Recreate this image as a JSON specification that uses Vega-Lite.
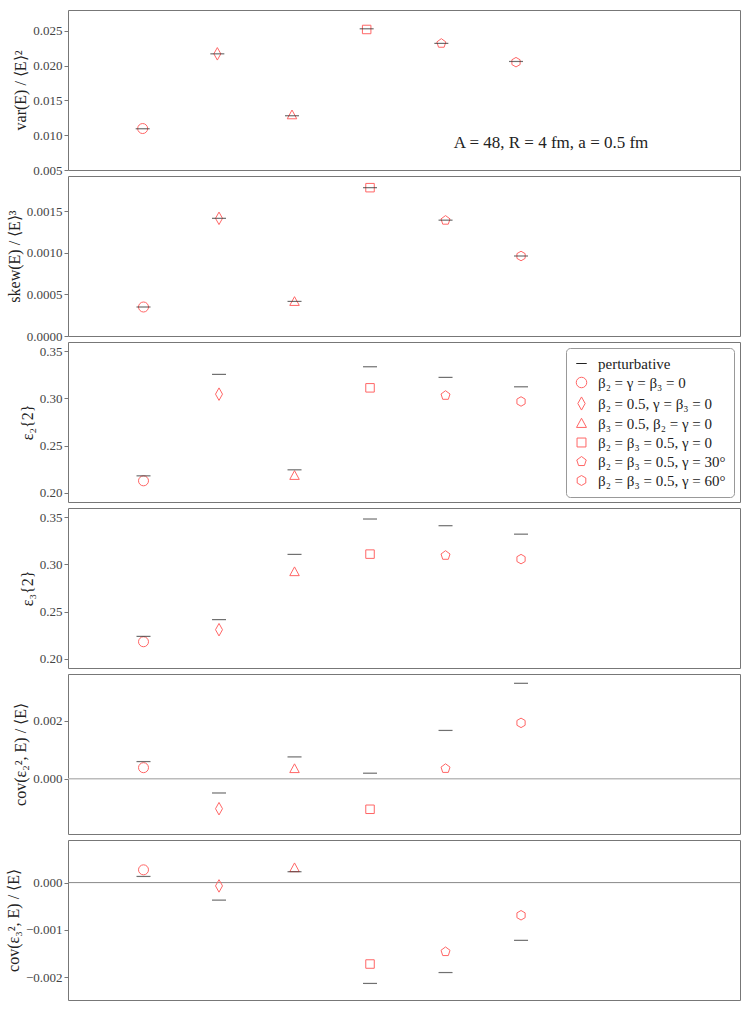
{
  "$schema": "https://vega.github.io/schema/vega-lite/v6.json",
  "padding": {"left": 4, "top": 9, "right": 6, "bottom": 4},
  "background": "white",
  "spacing": 6,
  "bounds": "flush",
  "datasets": {
    "moments": [
      {"panel": 1, "i": 1, "cfg": "β₂ = γ = β₃ = 0", "val": 0.01096, "pert": 0.01093},
      {"panel": 1, "i": 2, "cfg": "β₂ = 0.5, γ = β₃ = 0", "val": 0.0217, "pert": 0.0217},
      {"panel": 1, "i": 3, "cfg": "β₃ = 0.5, β₂ = γ = 0", "val": 0.0129, "pert": 0.0128},
      {"panel": 1, "i": 4, "cfg": "β₂ = β₃ = 0.5, γ = 0", "val": 0.0252, "pert": 0.0253},
      {"panel": 1, "i": 5, "cfg": "β₂ = β₃ = 0.5, γ = 30°", "val": 0.0232, "pert": 0.0232},
      {"panel": 1, "i": 6, "cfg": "β₂ = β₃ = 0.5, γ = 60°", "val": 0.0205, "pert": 0.0206},
      {"panel": 2, "i": 1, "cfg": "β₂ = γ = β₃ = 0", "val": 0.000348, "pert": 0.000348},
      {"panel": 2, "i": 2, "cfg": "β₂ = 0.5, γ = β₃ = 0", "val": 0.001412, "pert": 0.001412},
      {"panel": 2, "i": 3, "cfg": "β₃ = 0.5, β₂ = γ = 0", "val": 0.000412, "pert": 0.000415},
      {"panel": 2, "i": 4, "cfg": "β₂ = β₃ = 0.5, γ = 0", "val": 0.00178, "pert": 0.00178},
      {"panel": 2, "i": 5, "cfg": "β₂ = β₃ = 0.5, γ = 30°", "val": 0.001388, "pert": 0.00139},
      {"panel": 2, "i": 6, "cfg": "β₂ = β₃ = 0.5, γ = 60°", "val": 0.00096, "pert": 0.00096},
      {"panel": 3, "i": 1, "cfg": "β₂ = γ = β₃ = 0", "val": 0.2125, "pert": 0.2178},
      {"panel": 3, "i": 2, "cfg": "β₂ = 0.5, γ = β₃ = 0", "val": 0.3046, "pert": 0.3256},
      {"panel": 3, "i": 3, "cfg": "β₃ = 0.5, β₂ = γ = 0", "val": 0.218, "pert": 0.2242},
      {"panel": 3, "i": 4, "cfg": "β₂ = β₃ = 0.5, γ = 0", "val": 0.3113, "pert": 0.3337},
      {"panel": 3, "i": 5, "cfg": "β₂ = β₃ = 0.5, γ = 30°", "val": 0.3032, "pert": 0.3224},
      {"panel": 3, "i": 6, "cfg": "β₂ = β₃ = 0.5, γ = 60°", "val": 0.2968, "pert": 0.3124},
      {"panel": 4, "i": 1, "cfg": "β₂ = γ = β₃ = 0", "val": 0.2179, "pert": 0.2236},
      {"panel": 4, "i": 2, "cfg": "β₂ = 0.5, γ = β₃ = 0", "val": 0.2307, "pert": 0.2414},
      {"panel": 4, "i": 3, "cfg": "β₃ = 0.5, β₂ = γ = 0", "val": 0.2921, "pert": 0.3107},
      {"panel": 4, "i": 4, "cfg": "β₂ = β₃ = 0.5, γ = 0", "val": 0.311, "pert": 0.3483},
      {"panel": 4, "i": 5, "cfg": "β₂ = β₃ = 0.5, γ = 30°", "val": 0.3096, "pert": 0.3412},
      {"panel": 4, "i": 6, "cfg": "β₂ = β₃ = 0.5, γ = 60°", "val": 0.3057, "pert": 0.3322},
      {"panel": 5, "i": 1, "cfg": "β₂ = γ = β₃ = 0", "val": 0.00038, "pert": 0.00059},
      {"panel": 5, "i": 2, "cfg": "β₂ = 0.5, γ = β₃ = 0", "val": -0.00103, "pert": -0.00049},
      {"panel": 5, "i": 3, "cfg": "β₃ = 0.5, β₂ = γ = 0", "val": 0.00034, "pert": 0.00075},
      {"panel": 5, "i": 4, "cfg": "β₂ = β₃ = 0.5, γ = 0", "val": -0.00105, "pert": 0.00019},
      {"panel": 5, "i": 5, "cfg": "β₂ = β₃ = 0.5, γ = 30°", "val": 0.00035, "pert": 0.00166},
      {"panel": 5, "i": 6, "cfg": "β₂ = β₃ = 0.5, γ = 60°", "val": 0.00192, "pert": 0.00328},
      {"panel": 6, "i": 1, "cfg": "β₂ = γ = β₃ = 0", "val": 0.00027, "pert": 0.00013},
      {"panel": 6, "i": 2, "cfg": "β₂ = 0.5, γ = β₃ = 0", "val": -0.00007, "pert": -0.00037},
      {"panel": 6, "i": 3, "cfg": "β₃ = 0.5, β₂ = γ = 0", "val": 0.00031, "pert": 0.00023},
      {"panel": 6, "i": 4, "cfg": "β₂ = β₃ = 0.5, γ = 0", "val": -0.00172, "pert": -0.00213},
      {"panel": 6, "i": 5, "cfg": "β₂ = β₃ = 0.5, γ = 30°", "val": -0.00146, "pert": -0.0019},
      {"panel": 6, "i": 6, "cfg": "β₂ = β₃ = 0.5, γ = 60°", "val": -0.00069, "pert": -0.00122}
    ]
  },
  "resolve": {"scale": {"color": "independent", "shape": "independent"}},
  "vconcat": [
    {
      "width": 672,
      "height": 160,
      "data": {"name": "moments"},
      "transform": [{"filter": "datum.panel == 1"}],
      "layer": [
        {
          "mark": {"type": "point", "filled": false, "size": 100, "strokeWidth": 1, "opacity": 1},
          "encoding": {
            "x": {"field": "i", "type": "quantitative", "scale": {"domain": [0, 8.9]}, "axis": null},
            "y": {"field": "val", "type": "quantitative", "title": "var(E) / ⟨E⟩²", "scale": {"domain": [0.005, 0.028], "nice": false, "zero": false}, "axis": {"tickCount": 5, "format": ".3f", "labelOverlap": false, "labelBound": false}},
            "shape": {"field": "cfg", "type": "nominal", "legend": null, "scale": {"domain": ["perturbative", "β₂ = γ = β₃ = 0", "β₂ = 0.5, γ = β₃ = 0", "β₃ = 0.5, β₂ = γ = 0", "β₂ = β₃ = 0.5, γ = 0", "β₂ = β₃ = 0.5, γ = 30°", "β₂ = β₃ = 0.5, γ = 60°"], "range": ["stroke", "circle", "M0,-1.25L0.7,0L0,1.25L-0.7,0Z", "M0,-1L0.95,0.75L-0.95,0.75Z", "M-0.85,-0.85H0.85V0.85H-0.85Z", "M0,-0.95L0.9,-0.29L0.56,0.77L-0.56,0.77L-0.9,-0.29Z", "M0,-0.95L0.82,-0.48L0.82,0.48L0,0.95L-0.82,0.48L-0.82,-0.48Z"]}},
            "color": {"field": "cfg", "type": "nominal", "legend": null, "scale": {"domain": ["perturbative", "β₂ = γ = β₃ = 0", "β₂ = 0.5, γ = β₃ = 0", "β₃ = 0.5, β₂ = γ = 0", "β₂ = β₃ = 0.5, γ = 0", "β₂ = β₃ = 0.5, γ = 30°", "β₂ = β₃ = 0.5, γ = 60°"], "range": ["#222222", "#ff6666", "#ff6666", "#ff6666", "#ff6666", "#ff6666", "#ff6666"]}}
          }
        },
        {
          "mark": {"type": "tick", "orient": "horizontal", "size": 14, "thickness": 1.2, "color": "#333333"},
          "encoding": {
            "x": {"field": "i", "type": "quantitative", "scale": {"domain": [0, 8.9]}, "axis": null},
            "y": {"field": "pert", "type": "quantitative", "title": "var(E) / ⟨E⟩²", "scale": {"domain": [0.005, 0.028], "nice": false, "zero": false}, "axis": {"tickCount": 5, "format": ".3f", "labelOverlap": false, "labelBound": false}}
          }
        },
        {
          "transform": [{"filter": "datum.i == 1"}],
          "mark": {"type": "text", "text": "A = 48, R = 4 fm, a = 0.5 fm", "font": "Liberation Serif", "fontSize": 17, "color": "#222222", "align": "center", "baseline": "middle"},
          "encoding": {"x": {"datum": 6.47}, "y": {"datum": 0.0089}}
        }
      ]
    },
    {
      "width": 672,
      "height": 160,
      "data": {"name": "moments"},
      "transform": [{"filter": "datum.panel == 2"}],
      "layer": [
        {
          "mark": {"type": "point", "filled": false, "size": 100, "strokeWidth": 1, "opacity": 1},
          "encoding": {
            "x": {"field": "i", "type": "quantitative", "scale": {"domain": [0, 8.9]}, "axis": null},
            "y": {"field": "val", "type": "quantitative", "title": "skew(E) / ⟨E⟩³", "scale": {"domain": [0, 0.00192], "nice": false, "zero": false}, "axis": {"values": [0, 0.0005, 0.001, 0.0015], "format": ".4f", "labelOverlap": false}},
            "shape": {"field": "cfg", "type": "nominal", "legend": null, "scale": {"domain": ["perturbative", "β₂ = γ = β₃ = 0", "β₂ = 0.5, γ = β₃ = 0", "β₃ = 0.5, β₂ = γ = 0", "β₂ = β₃ = 0.5, γ = 0", "β₂ = β₃ = 0.5, γ = 30°", "β₂ = β₃ = 0.5, γ = 60°"], "range": ["stroke", "circle", "M0,-1.25L0.7,0L0,1.25L-0.7,0Z", "M0,-1L0.95,0.75L-0.95,0.75Z", "M-0.85,-0.85H0.85V0.85H-0.85Z", "M0,-0.95L0.9,-0.29L0.56,0.77L-0.56,0.77L-0.9,-0.29Z", "M0,-0.95L0.82,-0.48L0.82,0.48L0,0.95L-0.82,0.48L-0.82,-0.48Z"]}},
            "color": {"field": "cfg", "type": "nominal", "legend": null, "scale": {"domain": ["perturbative", "β₂ = γ = β₃ = 0", "β₂ = 0.5, γ = β₃ = 0", "β₃ = 0.5, β₂ = γ = 0", "β₂ = β₃ = 0.5, γ = 0", "β₂ = β₃ = 0.5, γ = 30°", "β₂ = β₃ = 0.5, γ = 60°"], "range": ["#222222", "#ff6666", "#ff6666", "#ff6666", "#ff6666", "#ff6666", "#ff6666"]}}
          }
        },
        {
          "mark": {"type": "tick", "orient": "horizontal", "size": 14, "thickness": 1.2, "color": "#333333"},
          "encoding": {
            "x": {"field": "i", "type": "quantitative", "scale": {"domain": [0, 8.9]}, "axis": null},
            "y": {"field": "pert", "type": "quantitative", "title": "skew(E) / ⟨E⟩³", "scale": {"domain": [0, 0.00192], "nice": false, "zero": false}, "axis": {"values": [0, 0.0005, 0.001, 0.0015], "format": ".4f", "labelOverlap": false}}
          }
        }
      ]
    },
    {
      "width": 672,
      "height": 160,
      "data": {"name": "moments"},
      "transform": [{"filter": "datum.panel == 3"}],
      "layer": [
        {
          "mark": {"type": "point", "filled": false, "size": 100, "strokeWidth": 1, "opacity": 1},
          "encoding": {
            "x": {"field": "i", "type": "quantitative", "scale": {"domain": [0, 8.9]}, "axis": null},
            "y": {"field": "val", "type": "quantitative", "title": "ε₂{2}", "scale": {"domain": [0.19, 0.36], "nice": false, "zero": false}, "axis": {"values": [0.2, 0.25, 0.3, 0.35], "format": ".2f", "labelOverlap": false}},
            "shape": {"field": "cfg", "type": "nominal", "legend": {"orient": "top-right", "title": null}, "scale": {"domain": ["perturbative", "β₂ = γ = β₃ = 0", "β₂ = 0.5, γ = β₃ = 0", "β₃ = 0.5, β₂ = γ = 0", "β₂ = β₃ = 0.5, γ = 0", "β₂ = β₃ = 0.5, γ = 30°", "β₂ = β₃ = 0.5, γ = 60°"], "range": ["stroke", "circle", "M0,-1.25L0.7,0L0,1.25L-0.7,0Z", "M0,-1L0.95,0.75L-0.95,0.75Z", "M-0.85,-0.85H0.85V0.85H-0.85Z", "M0,-0.95L0.9,-0.29L0.56,0.77L-0.56,0.77L-0.9,-0.29Z", "M0,-0.95L0.82,-0.48L0.82,0.48L0,0.95L-0.82,0.48L-0.82,-0.48Z"]}},
            "color": {"field": "cfg", "type": "nominal", "legend": {"orient": "top-right", "title": null}, "scale": {"domain": ["perturbative", "β₂ = γ = β₃ = 0", "β₂ = 0.5, γ = β₃ = 0", "β₃ = 0.5, β₂ = γ = 0", "β₂ = β₃ = 0.5, γ = 0", "β₂ = β₃ = 0.5, γ = 30°", "β₂ = β₃ = 0.5, γ = 60°"], "range": ["#222222", "#ff6666", "#ff6666", "#ff6666", "#ff6666", "#ff6666", "#ff6666"]}}
          }
        },
        {
          "mark": {"type": "tick", "orient": "horizontal", "size": 14, "thickness": 1.2, "color": "#333333"},
          "encoding": {
            "x": {"field": "i", "type": "quantitative", "scale": {"domain": [0, 8.9]}, "axis": null},
            "y": {"field": "pert", "type": "quantitative", "title": "ε₂{2}", "scale": {"domain": [0.19, 0.36], "nice": false, "zero": false}, "axis": {"values": [0.2, 0.25, 0.3, 0.35], "format": ".2f", "labelOverlap": false}}
          }
        }
      ]
    },
    {
      "width": 672,
      "height": 160,
      "data": {"name": "moments"},
      "transform": [{"filter": "datum.panel == 4"}],
      "layer": [
        {
          "mark": {"type": "point", "filled": false, "size": 100, "strokeWidth": 1, "opacity": 1},
          "encoding": {
            "x": {"field": "i", "type": "quantitative", "scale": {"domain": [0, 8.9]}, "axis": null},
            "y": {"field": "val", "type": "quantitative", "title": "ε₃{2}", "scale": {"domain": [0.19, 0.36], "nice": false, "zero": false}, "axis": {"values": [0.2, 0.25, 0.3, 0.35], "format": ".2f", "labelOverlap": false}},
            "shape": {"field": "cfg", "type": "nominal", "legend": null, "scale": {"domain": ["perturbative", "β₂ = γ = β₃ = 0", "β₂ = 0.5, γ = β₃ = 0", "β₃ = 0.5, β₂ = γ = 0", "β₂ = β₃ = 0.5, γ = 0", "β₂ = β₃ = 0.5, γ = 30°", "β₂ = β₃ = 0.5, γ = 60°"], "range": ["stroke", "circle", "M0,-1.25L0.7,0L0,1.25L-0.7,0Z", "M0,-1L0.95,0.75L-0.95,0.75Z", "M-0.85,-0.85H0.85V0.85H-0.85Z", "M0,-0.95L0.9,-0.29L0.56,0.77L-0.56,0.77L-0.9,-0.29Z", "M0,-0.95L0.82,-0.48L0.82,0.48L0,0.95L-0.82,0.48L-0.82,-0.48Z"]}},
            "color": {"field": "cfg", "type": "nominal", "legend": null, "scale": {"domain": ["perturbative", "β₂ = γ = β₃ = 0", "β₂ = 0.5, γ = β₃ = 0", "β₃ = 0.5, β₂ = γ = 0", "β₂ = β₃ = 0.5, γ = 0", "β₂ = β₃ = 0.5, γ = 30°", "β₂ = β₃ = 0.5, γ = 60°"], "range": ["#222222", "#ff6666", "#ff6666", "#ff6666", "#ff6666", "#ff6666", "#ff6666"]}}
          }
        },
        {
          "mark": {"type": "tick", "orient": "horizontal", "size": 14, "thickness": 1.2, "color": "#333333"},
          "encoding": {
            "x": {"field": "i", "type": "quantitative", "scale": {"domain": [0, 8.9]}, "axis": null},
            "y": {"field": "pert", "type": "quantitative", "title": "ε₃{2}", "scale": {"domain": [0.19, 0.36], "nice": false, "zero": false}, "axis": {"values": [0.2, 0.25, 0.3, 0.35], "format": ".2f", "labelOverlap": false}}
          }
        }
      ]
    },
    {
      "width": 672,
      "height": 160,
      "data": {"name": "moments"},
      "transform": [{"filter": "datum.panel == 5"}],
      "layer": [
        {
          "transform": [{"filter": "datum.i == 1"}],
          "mark": {"type": "rule", "color": "#bbbbbb", "strokeWidth": 1.5},
          "encoding": {"y": {"datum": 0}}
        },
        {
          "mark": {"type": "point", "filled": false, "size": 100, "strokeWidth": 1, "opacity": 1},
          "encoding": {
            "x": {"field": "i", "type": "quantitative", "scale": {"domain": [0, 8.9]}, "axis": null},
            "y": {"field": "val", "type": "quantitative", "title": "cov(ε₂², E) / ⟨E⟩", "scale": {"domain": [-0.0019, 0.0036], "nice": false, "zero": false}, "axis": {"values": [0, 0.002], "format": ".3f", "labelOverlap": false}},
            "shape": {"field": "cfg", "type": "nominal", "legend": null, "scale": {"domain": ["perturbative", "β₂ = γ = β₃ = 0", "β₂ = 0.5, γ = β₃ = 0", "β₃ = 0.5, β₂ = γ = 0", "β₂ = β₃ = 0.5, γ = 0", "β₂ = β₃ = 0.5, γ = 30°", "β₂ = β₃ = 0.5, γ = 60°"], "range": ["stroke", "circle", "M0,-1.25L0.7,0L0,1.25L-0.7,0Z", "M0,-1L0.95,0.75L-0.95,0.75Z", "M-0.85,-0.85H0.85V0.85H-0.85Z", "M0,-0.95L0.9,-0.29L0.56,0.77L-0.56,0.77L-0.9,-0.29Z", "M0,-0.95L0.82,-0.48L0.82,0.48L0,0.95L-0.82,0.48L-0.82,-0.48Z"]}},
            "color": {"field": "cfg", "type": "nominal", "legend": null, "scale": {"domain": ["perturbative", "β₂ = γ = β₃ = 0", "β₂ = 0.5, γ = β₃ = 0", "β₃ = 0.5, β₂ = γ = 0", "β₂ = β₃ = 0.5, γ = 0", "β₂ = β₃ = 0.5, γ = 30°", "β₂ = β₃ = 0.5, γ = 60°"], "range": ["#222222", "#ff6666", "#ff6666", "#ff6666", "#ff6666", "#ff6666", "#ff6666"]}}
          }
        },
        {
          "mark": {"type": "tick", "orient": "horizontal", "size": 14, "thickness": 1.2, "color": "#333333"},
          "encoding": {
            "x": {"field": "i", "type": "quantitative", "scale": {"domain": [0, 8.9]}, "axis": null},
            "y": {"field": "pert", "type": "quantitative", "title": "cov(ε₂², E) / ⟨E⟩", "scale": {"domain": [-0.0019, 0.0036], "nice": false, "zero": false}, "axis": {"values": [0, 0.002], "format": ".3f", "labelOverlap": false}}
          }
        }
      ]
    },
    {
      "width": 672,
      "height": 160,
      "data": {"name": "moments"},
      "transform": [{"filter": "datum.panel == 6"}],
      "layer": [
        {
          "transform": [{"filter": "datum.i == 1"}],
          "mark": {"type": "rule", "color": "#888888", "strokeWidth": 1},
          "encoding": {"y": {"datum": 0}}
        },
        {
          "mark": {"type": "point", "filled": false, "size": 100, "strokeWidth": 1, "opacity": 1},
          "encoding": {
            "x": {"field": "i", "type": "quantitative", "scale": {"domain": [0, 8.9]}, "axis": null},
            "y": {"field": "val", "type": "quantitative", "title": "cov(ε₃², E) / ⟨E⟩", "scale": {"domain": [-0.00248, 0.0009], "nice": false, "zero": false}, "axis": {"values": [-0.002, -0.001, 0], "format": ".3f", "labelOverlap": false}},
            "shape": {"field": "cfg", "type": "nominal", "legend": null, "scale": {"domain": ["perturbative", "β₂ = γ = β₃ = 0", "β₂ = 0.5, γ = β₃ = 0", "β₃ = 0.5, β₂ = γ = 0", "β₂ = β₃ = 0.5, γ = 0", "β₂ = β₃ = 0.5, γ = 30°", "β₂ = β₃ = 0.5, γ = 60°"], "range": ["stroke", "circle", "M0,-1.25L0.7,0L0,1.25L-0.7,0Z", "M0,-1L0.95,0.75L-0.95,0.75Z", "M-0.85,-0.85H0.85V0.85H-0.85Z", "M0,-0.95L0.9,-0.29L0.56,0.77L-0.56,0.77L-0.9,-0.29Z", "M0,-0.95L0.82,-0.48L0.82,0.48L0,0.95L-0.82,0.48L-0.82,-0.48Z"]}},
            "color": {"field": "cfg", "type": "nominal", "legend": null, "scale": {"domain": ["perturbative", "β₂ = γ = β₃ = 0", "β₂ = 0.5, γ = β₃ = 0", "β₃ = 0.5, β₂ = γ = 0", "β₂ = β₃ = 0.5, γ = 0", "β₂ = β₃ = 0.5, γ = 30°", "β₂ = β₃ = 0.5, γ = 60°"], "range": ["#222222", "#ff6666", "#ff6666", "#ff6666", "#ff6666", "#ff6666", "#ff6666"]}}
          }
        },
        {
          "mark": {"type": "tick", "orient": "horizontal", "size": 14, "thickness": 1.2, "color": "#333333"},
          "encoding": {
            "x": {"field": "i", "type": "quantitative", "scale": {"domain": [0, 8.9]}, "axis": null},
            "y": {"field": "pert", "type": "quantitative", "title": "cov(ε₃², E) / ⟨E⟩", "scale": {"domain": [-0.00248, 0.0009], "nice": false, "zero": false}, "axis": {"values": [-0.002, -0.001, 0], "format": ".3f", "labelOverlap": false}}
          }
        }
      ]
    }
  ],
  "config": {
    "font": "Liberation Serif",
    "view": {"stroke": "#777777", "strokeWidth": 1},
    "axis": {
      "grid": false,
      "domain": false,
      "ticks": true,
      "tickSize": 4,
      "tickColor": "#777777",
      "labelFont": "Liberation Serif",
      "labelFontSize": 13,
      "labelColor": "#444444",
      "labelPadding": 2,
      "labelOverlap": false,
      "labelFlush": false,
      "titleFont": "Liberation Serif",
      "titleFontSize": 16,
      "titleFontWeight": "normal",
      "titleColor": "#222222",
      "titlePadding": 4
    },
    "legend": {
      "labelFont": "Liberation Serif",
      "labelFontSize": 15,
      "labelColor": "#222222",
      "labelOffset": 9,
      "strokeColor": "#999999",
      "fillColor": "white",
      "cornerRadius": 4,
      "padding": 8,
      "rowPadding": 3,
      "offset": 6,
      "symbolSize": 110,
      "symbolStrokeWidth": 1
    }
  }
}
